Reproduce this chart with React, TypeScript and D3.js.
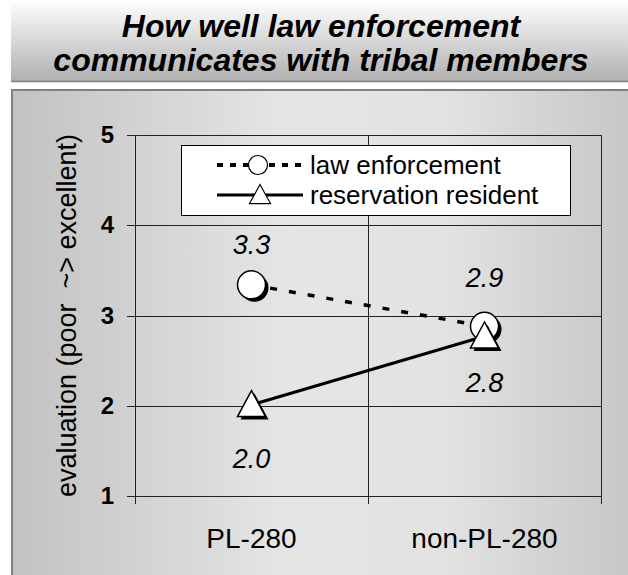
import { useRef, useEffect } from 'react'
import * as d3 from 'd3'

const W = 628
const H = 575
const CATEGORIES = ['PL-280', 'non-PL-280']
const LAW_ENFORCEMENT = [3.34, 2.88]
const RESERVATION_RESIDENT = [2.01, 2.77]
const Y_TICKS = [1, 2, 3, 4, 5]
const SERIES_NAMES = ['law enforcement', 'reservation resident']
const TITLE_LINES = ['How well law enforcement', 'communicates with tribal members']
const Y_LABEL = 'evaluation (poor  ~> excellent)'

const PLOT = { left: 135, right: 601, top: 135, bottom: 496 }
const FONT = "'Liberation Sans', Arial, sans-serif"

function triPath(cx: number, cy: number, w: number, h: number) {
  return `M${cx},${cy - h * 0.55}L${cx + w / 2},${cy + h * 0.45}L${cx - w / 2},${cy + h * 0.45}Z`
}

export default function App() {
  const svgRef = useRef<SVGSVGElement>(null)

  useEffect(() => {
    if (!svgRef.current) return
    const svg = d3.select(svgRef.current)
    svg.selectAll('*').remove()

    const defs = svg.append('defs')
    const tg = defs.append('linearGradient').attr('id', 'titleGrad').attr('x1', 0).attr('y1', 0).attr('x2', 0).attr('y2', 1)
    tg.append('stop').attr('offset', 0).attr('stop-color', '#ffffff')
    tg.append('stop').attr('offset', 1).attr('stop-color', '#b0b0b0')
    const pg = defs.append('linearGradient').attr('id', 'panelGrad').attr('x1', 0).attr('y1', 0).attr('x2', 1).attr('y2', 0)
    pg.append('stop').attr('offset', 0).attr('stop-color', '#c2c2c2')
    pg.append('stop').attr('offset', 0.45).attr('stop-color', '#e6e6e6')
    pg.append('stop').attr('offset', 0.7).attr('stop-color', '#e2e2e2')
    pg.append('stop').attr('offset', 1).attr('stop-color', '#c6c6c6')

    // title band
    svg.append('rect').attr('x', 11).attr('y', 0).attr('width', W - 11).attr('height', 81).attr('fill', 'url(#titleGrad)')
    svg.append('line').attr('x1', 11).attr('x2', W).attr('y1', 81.5).attr('y2', 81.5).attr('stroke', '#808080').attr('stroke-width', 1.5)
    svg.append('g')
      .selectAll('text')
      .data(TITLE_LINES)
      .join('text')
      .attr('x', 321)
      .attr('y', (_d, i) => 37 + i * 34)
      .attr('text-anchor', 'middle')
      .attr('font-family', FONT)
      .attr('font-size', 32)
      .attr('font-weight', 'bold')
      .attr('font-style', 'italic')
      .attr('fill', '#000')
      .text((d) => d)

    // panel
    svg.append('rect').attr('x', 12).attr('y', 90).attr('width', W - 12 + 5).attr('height', H - 90 + 5)
      .attr('fill', 'url(#panelGrad)').attr('stroke', '#808080').attr('stroke-width', 2)

    const x = d3.scaleBand().domain(CATEGORIES).range([PLOT.left, PLOT.right]).padding(0)
    const y = d3.scaleLinear().domain([1, 5]).range([PLOT.bottom, PLOT.top])
    const cx = (c: string) => (x(c) ?? 0) + x.bandwidth() / 2

    const g = svg.append('g')
    // gridlines with ticks
    g.selectAll('.hgrid')
      .data(Y_TICKS)
      .join('line')
      .attr('x1', PLOT.left - 8)
      .attr('x2', PLOT.right)
      .attr('y1', (d) => Math.round(y(d)) + 0.5)
      .attr('y2', (d) => Math.round(y(d)) + 0.5)
      .attr('stroke', '#222')
      .attr('stroke-width', 1)
    const bounds = [...CATEGORIES.map((c) => x(c) ?? 0), PLOT.right]
    g.selectAll('.vgrid')
      .data(bounds)
      .join('line')
      .attr('x1', (d) => Math.round(d) + 0.5)
      .attr('x2', (d) => Math.round(d) + 0.5)
      .attr('y1', PLOT.top)
      .attr('y2', PLOT.bottom + 8)
      .attr('stroke', '#222')
      .attr('stroke-width', 1)

    g.selectAll('.ytick')
      .data(Y_TICKS)
      .join('text')
      .attr('x', 114)
      .attr('y', (d) => y(d) + 8)
      .attr('text-anchor', 'end')
      .attr('font-family', FONT)
      .attr('font-size', 24)
      .attr('font-weight', 'bold')
      .text((d) => d)

    g.selectAll('.xlab')
      .data(CATEGORIES)
      .join('text')
      .attr('x', (d) => cx(d))
      .attr('y', 548)
      .attr('text-anchor', 'middle')
      .attr('font-family', FONT)
      .attr('font-size', 28)
      .text((d) => d)

    g.append('text')
      .attr('transform', `translate(76,${(PLOT.top + PLOT.bottom) / 2}) rotate(-90)`)
      .attr('text-anchor', 'middle')
      .attr('font-family', FONT)
      .attr('font-size', 27)
      .style('white-space', 'pre')
      .text(Y_LABEL)

    // lines
    const line = d3.line<number>().x((_d, i) => cx(CATEGORIES[i])).y((d) => y(d))
    g.append('path').attr('d', line(LAW_ENFORCEMENT)).attr('fill', 'none').attr('stroke', '#000')
      .attr('stroke-width', 3.5).attr('stroke-dasharray', '7 12')
    g.append('path').attr('d', line(RESERVATION_RESIDENT)).attr('fill', 'none').attr('stroke', '#000')
      .attr('stroke-width', 3)

    // markers with drop shadow
    LAW_ENFORCEMENT.forEach((v, i) => {
      const px = cx(CATEGORIES[i])
      const py = y(v)
      g.append('circle').attr('cx', px + 3).attr('cy', py + 3).attr('r', 14).attr('fill', '#000')
      g.append('circle').attr('cx', px).attr('cy', py).attr('r', 14).attr('fill', '#fff').attr('stroke', '#000').attr('stroke-width', 1.5)
    })
    RESERVATION_RESIDENT.forEach((v, i) => {
      const px = cx(CATEGORIES[i])
      const py = y(v)
      g.append('path').attr('d', triPath(px + 3, py + 3, 28, 26)).attr('fill', '#000')
      g.append('path').attr('d', triPath(px, py, 28, 26)).attr('fill', '#fff').attr('stroke', '#000').attr('stroke-width', 1.5)
    })

    // value labels
    const valStyle = (sel: d3.Selection<SVGTextElement, unknown, null, undefined>) =>
      sel.attr('text-anchor', 'middle').attr('font-family', FONT).attr('font-size', 27).attr('font-style', 'italic')
    const leOffsets = [-31, -39]
    const rrOffsets = [63, 56]
    LAW_ENFORCEMENT.forEach((v, i) => {
      g.append('text').attr('x', cx(CATEGORIES[i])).attr('y', y(v) + leOffsets[i]).call(valStyle).text(v.toFixed(1))
    })
    RESERVATION_RESIDENT.forEach((v, i) => {
      g.append('text').attr('x', cx(CATEGORIES[i])).attr('y', y(v) + rrOffsets[i]).call(valStyle).text(v.toFixed(1))
    })

    // legend
    const lg = svg.append('g')
    lg.append('rect').attr('x', 181.5).attr('y', 145.5).attr('width', 389).attr('height', 70).attr('fill', '#fff').attr('stroke', '#000')
    const rows = [165, 195]
    lg.append('line').attr('x1', 217).attr('x2', 303).attr('y1', rows[0]).attr('y2', rows[0])
      .attr('stroke', '#000').attr('stroke-width', 4).attr('stroke-dasharray', '6 7')
    lg.append('circle').attr('cx', 258).attr('cy', rows[0]).attr('r', 9.5).attr('fill', '#fff').attr('stroke', '#000').attr('stroke-width', 1.2)
    lg.append('line').attr('x1', 217).attr('x2', 303).attr('y1', rows[1]).attr('y2', rows[1])
      .attr('stroke', '#000').attr('stroke-width', 3)
    lg.append('path').attr('d', triPath(260, rows[1], 21, 19)).attr('fill', '#fff').attr('stroke', '#000').attr('stroke-width', 1.2)
    lg.selectAll('.ltext')
      .data(SERIES_NAMES)
      .join('text')
      .attr('x', 310)
      .attr('y', (_d, i) => rows[i] + 9)
      .attr('font-family', FONT)
      .attr('font-size', 26)
      .text((d) => d)
  }, [])

  return (
    <div style={{ position: 'fixed', left: 0, top: 0, width: W, height: H, background: '#fff' }}>
      <svg ref={svgRef} width={W} height={H} style={{ display: 'block' }} />
    </div>
  )
}
